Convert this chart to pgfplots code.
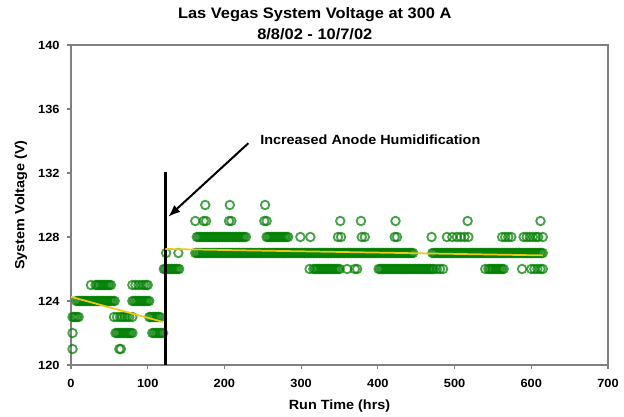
\documentclass[border=0pt]{standalone}
\usepackage{fontspec}
\setmainfont{Liberation Sans}[FakeStretch=1.08]
\usepackage{pgfplots}
\pgfplotsset{compat=1.18}
\usetikzlibrary{arrows.meta}
\definecolor{mkgreen}{RGB}{0,128,0}
\definecolor{trend}{RGB}{238,200,20}
\definecolor{framegray}{RGB}{128,128,128}
\begin{document}
\begin{tikzpicture}
\begin{axis}[
  set layers,
  scale only axis, width=402.75pt, height=240pt,
  xmin=0, xmax=700, ymin=120, ymax=140,
  xtick={0,100,...,700}, ytick={120,124,...,140},
  tick pos=left, tick align=outside, major tick length=3pt,
  axis line style={framegray, line width=0.8pt},
  every tick/.style={framegray, line width=0.8pt},
  /pgf/number format/assume math mode=true,
  ticklabel style={font=\bfseries\fontsize{8.9}{10}\selectfont, black},
  xticklabel style={yshift=-4pt},
  yticklabel style={xshift=-2pt},
  xlabel={Run Time (hrs)}, ylabel={System Voltage (V)},
  label style={font=\bfseries\fontsize{10}{12}\selectfont},
  xlabel style={at={(axis description cs:0.5,-0.128)}, anchor=center},
  ylabel style={at={(axis description cs:-0.093,0.5)}, anchor=center, rotate=0},
  clip=false,
]
\addplot[only marks, mark=o, mark size=3.2pt, mkgreen, mark options={line width=1.4pt, draw opacity=0.72}] coordinates {
(26,125) (32,125) (34,125) (36,125) (38,125) (40,125) (42,125) (44,125) (46,125) (48,125) (50,125) (52,125)
(80,125) (84,125) (88,125) (92,125) (95,125) (98,125) (100,125)
(7,124) (9,124) (11,124) (13,124) (15,124) (17,124) (19,124) (21,124) (23,124) (25,124) (27,124) (29,124) (31,124) (33,124) (35,124) (37,124) (39,124) (41,124) (43,124) (45,124) (47,124) (49,124) (51,124) (53,124) (55,124) (57,124)
(80,124) (82,124) (84,124) (86,124) (88,124) (90,124) (92,124) (94,124) (96,124) (98,124) (100,124) (102,124)
(2,123) (4,123) (6,123) (8,123) (10,123)
(56,123) (60,123) (64,123) (67,123) (70,123) (73,123) (76,123) (80,123)
(102,123) (104,123) (106,123) (108,123) (110,123) (112,123) (114,123) (116,123)
(2,122) (58,122) (60,122) (62,122) (64,122) (66,122) (68,122) (70,122) (72,122) (74,122) (76,122) (78,122) (80,122)
(106,122) (108,122) (110,122) (112,122) (114,122) (116,122) (118,122) (120,122)
(2,121) (63,121) (65,121)
};
\addplot[only marks, mark=o, mark size=3.2pt, mkgreen, mark options={line width=1.4pt, draw opacity=0.72}] coordinates {
(124,127) (140,127) (162,127)
(164,127) (166,127) (168,127) (170,127) (172,127) (174,127) (176,127) (178,127) (180,127) (182,127) (184,127) (186,127) (188,127) (190,127) (192,127) (194,127) (196,127) (198,127)
(200,127) (202,127) (204,127) (206,127) (208,127) (210,127) (212,127) (214,127) (216,127) (218,127) (220,127) (222,127) (224,127) (226,127) (228,127) (230,127) (232,127) (234,127) (236,127) (238,127)
(240,127) (242,127) (244,127) (246,127) (248,127) (250,127) (252,127) (254,127) (256,127) (258,127) (260,127) (262,127) (264,127) (266,127) (268,127) (270,127) (272,127) (274,127) (276,127) (278,127)
(280,127) (282,127) (284,127) (286,127) (288,127) (290,127) (292,127) (294,127) (296,127) (298,127) (300,127) (302,127) (304,127) (306,127) (308,127) (310,127) (312,127) (314,127) (316,127) (318,127)
(320,127) (322,127) (324,127) (326,127) (328,127) (330,127) (332,127) (334,127) (336,127) (338,127) (340,127) (342,127) (344,127) (346,127) (348,127) (350,127) (352,127) (354,127) (356,127) (358,127)
(360,127) (362,127) (364,127) (366,127) (368,127) (370,127) (372,127) (374,127) (376,127) (378,127) (380,127) (382,127) (384,127) (386,127) (388,127) (390,127) (392,127) (394,127) (396,127) (398,127)
(400,127) (402,127) (404,127) (406,127) (408,127) (410,127) (412,127) (414,127) (416,127) (418,127) (420,127) (422,127) (424,127) (426,127) (428,127) (430,127) (432,127) (434,127) (436,127) (438,127)
(440,127) (442,127) (444,127) (446,127)
(471,127) (473,127) (475,127) (477,127) (479,127) (481,127) (483,127) (485,127) (487,127) (489,127) (491,127) (493,127) (495,127) (497,127) (499,127) (501,127) (503,127) (505,127) (507,127) (509,127)
(511,127) (513,127) (515,127) (517,127) (519,127) (521,127) (523,127) (525,127) (527,127) (529,127) (531,127) (533,127) (535,127) (537,127) (539,127) (541,127) (543,127) (545,127) (547,127) (549,127)
(551,127) (553,127) (555,127) (557,127) (559,127) (561,127) (563,127) (565,127) (567,127) (569,127) (571,127) (573,127) (575,127) (577,127) (579,127) (581,127) (583,127) (585,127) (587,127) (589,127)
(591,127) (593,127) (595,127) (597,127) (599,127) (601,127) (603,127) (605,127) (607,127) (609,127) (611,127) (613,127) (615,127)
(121,126) (123,126) (125,126) (127,126) (129,126) (131,126) (133,126) (135,126) (137,126) (139,126) (141,126)
(311,126) (316,126) (318,126) (320,126) (322,126) (324,126) (326,126) (328,126) (330,126) (332,126) (334,126) (336,126) (338,126) (340,126) (342,126) (344,126) (346,126) (348,126) (350,126)
(360,126) (370,126) (373,126)
(401,126) (403,126) (405,126) (407,126) (409,126) (411,126) (413,126) (415,126) (417,126) (419,126) (421,126) (423,126) (425,126) (427,126) (429,126) (431,126) (433,126) (435,126) (437,126) (439,126)
(441,126) (443,126) (445,126) (447,126) (449,126) (451,126) (453,126) (455,126) (457,126) (459,126) (461,126) (463,126) (465,126) (467,126) (469,126) (471,126) (473,126)
(477,126) (481,126) (485,126)
(540,126) (544,126) (546,126) (548,126) (550,126) (552,126) (554,126) (556,126) (558,126) (560,126) (562,126) (564,126)
(588,126) (600,126) (604,126) (608,126) (612,126) (615,126)
(164,128) (166,128) (168,128) (170,128) (172,128) (174,128) (176,128) (178,128) (180,128) (182,128) (184,128) (186,128) (188,128) (190,128) (192,128) (194,128) (196,128) (198,128)
(200,128) (202,128) (204,128) (206,128) (208,128) (210,128) (212,128) (214,128) (216,128) (218,128) (220,128) (222,128) (224,128) (226,128) (228,128)
(255,128) (257,128) (259,128) (261,128) (263,128) (265,128) (267,128) (269,128) (271,128) (273,128) (275,128) (277,128) (279,128) (281,128) (283,128)
(299,128) (312,128) (348,128) (352,128) (379,128) (383,128) (422,128) (425,128) (470,128)
(490,128) (497,128) (503,128) (508,128) (513,128) (518,128)
(562,128) (566,128) (570,128) (574,128) (590,128) (594,128) (598,128) (602,128) (606,128) (609,128) (615,128)
(162,129) (173,129) (176,129) (206,129) (209,129) (252,129) (255,129) (351,129) (378,129) (423,129) (517,129) (612,129)
(175,130) (207,130) (253,130)
};
\addplot[black, line width=2.2pt, on layer=axis foreground] coordinates {(123,120) (123,132.06)};
\addplot[trend, line width=1.3pt, on layer=axis foreground] coordinates {(0,124.26) (120,122.69)};
\addplot[trend, line width=1.3pt, on layer=axis foreground] coordinates {(123,127.25) (615,126.85)};
\draw[black, line width=1.5pt, -{Latex[length=9pt,width=7pt]}] (axis cs:231.2,133.86) -- (axis cs:126.9,129.27);
\node[anchor=west, font=\bfseries\fontsize{10}{12}\selectfont, inner sep=0pt] at (axis cs:246.4,134.06) {Increased Anode Humidification};
\node[font=\bfseries\fontsize{11.4}{13}\selectfont, inner sep=0pt] at (axis description cs:0.454,1.095) {Las Vegas System Voltage at 300 A};
\node[font=\bfseries\fontsize{11.4}{13}\selectfont, inner sep=0pt] at (axis description cs:0.454,1.035) {8/8/02 - 10/7/02};
\end{axis}
\pgfresetboundingbox
\useasboundingbox (-53.25pt,-39pt) rectangle (414.75pt,273.75pt);
\end{tikzpicture}
\end{document}
